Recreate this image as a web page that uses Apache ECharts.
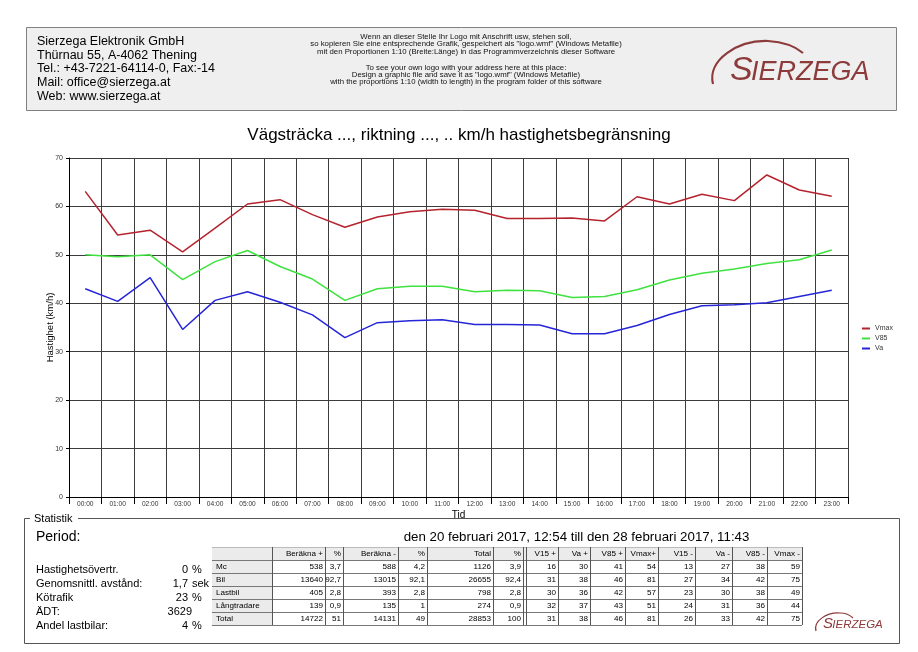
<!DOCTYPE html>
<html><head><meta charset="utf-8">
<script src="https://cdn.jsdelivr.net/npm/echarts@6/dist/echarts.min.js"></script>
<style>html,body{margin:0;padding:0;background:#fff}#c{width:918px;height:652px}</style>
</head><body><div id="c"></div>
<script>
// ---------- data ----------
const hours = ['00:00','01:00','02:00','03:00','04:00','05:00','06:00','07:00','08:00','09:00','10:00','11:00','12:00','13:00','14:00','15:00','16:00','17:00','18:00','19:00','20:00','21:00','22:00','23:00'];
const vmax = [63.1,54.1,55.1,50.6,55.5,60.5,61.4,58.3,55.7,57.8,58.9,59.4,59.2,57.5,57.5,57.6,57.0,62.0,60.5,62.5,61.2,66.5,63.4,62.1];
const v85  = [50.0,49.6,50.0,44.9,48.6,50.9,47.6,45.0,40.6,43.0,43.5,43.5,42.4,42.7,42.6,41.2,41.4,42.8,44.8,46.2,47.1,48.2,49.0,51.0];
const va   = [43.0,40.4,45.3,34.6,40.6,42.4,40.2,37.6,32.9,36.0,36.4,36.6,35.6,35.6,35.5,33.7,33.7,35.4,37.7,39.5,39.7,40.1,41.4,42.7];
const seriesNames = ['Vmax','V85','Va'];

const chartTitle = 'Vägsträcka ..., riktning ..., .. km/h hastighetsbegränsning';
const yAxisName = 'Hastighet (km/h)';
const xAxisName = 'Tid';

const companyLines = ['Sierzega Elektronik GmbH','Thürnau 55, A-4062 Thening','Tel.: +43-7221-64114-0, Fax:-14','Mail: office@sierzega.at','Web: www.sierzega.at'];
const noteLinesDe = ['Wenn an dieser Stelle Ihr Logo mit Anschrift usw, stehen soll,','so kopieren Sie eine entsprechende Grafik, gespeichert als "logo.wmf" (Windows Metafile)','mit den Proportionen 1:10 (Breite:Länge) in das Programmverzeichnis dieser Software'];
const noteLinesEn = ['To see your own logo with your address here at this place:','Design a graphic file and save it as "logo.wmf" (Windows Metafile)','with the proportions 1:10 (width to length) in the program folder of this software'];

const statTitle = 'Statistik';
const periodLabel = 'Period:';
const periodText = 'den 20 februari 2017, 12:54 till den 28 februari 2017, 11:43';
const statLabels = ['Hastighetsövertr.','Genomsnittl. avstånd:','Kötrafik','ÄDT:','Andel lastbilar:'];
const statValues = ['0','1,7','23','3629','4'];
const statUnits  = ['%','sek','%','','%'];

const tableHeader = ['Beräkna +','%','Beräkna -','%','Total','%','V15 +','Va +','V85 +','Vmax+','V15 -','Va -','V85 -','Vmax -'];
const rowLabels = ['Mc','Bil','Lastbil','Långtradare','Total'];
const rowMc      = ['538','3,7','588','4,2','1126','3,9','16','30','41','54','13','27','38','59'];
const rowBil     = ['13640','92,7','13015','92,1','26655','92,4','31','38','46','81','27','34','42','75'];
const rowLastbil = ['405','2,8','393','2,8','798','2,8','30','36','42','57','23','30','38','49'];
const rowLang    = ['139','0,9','135','1','274','0,9','32','37','43','51','24','31','36','44'];
const rowTotal   = ['14722','51','14131','49','28853','100','31','38','46','81','26','33','42','75'];
const tableRows = [rowMc,rowBil,rowLastbil,rowLang,rowTotal];
const logoText = ['S','IERZEGA'];

// ---------- helpers ----------
const F = '"Liberation Sans", Arial, sans-serif';
function T(text, x, y, size, align, extra){
  align = align || 'left';
  return {type:'text', silent:true, z:10, style:Object.assign({text:text, x:x, y:y, fontSize:size, fontFamily:F, fill:'#000',
    textAlign:align, align:align, textVerticalAlign:'middle', verticalAlign:'middle'}, extra||{})};
}
function L(x1,y1,x2,y2,color,w){
  return {type:'line', silent:true, z:10, shape:{x1:x1,y1:y1,x2:x2,y2:y2}, style:{stroke:color||'#000', lineWidth:w||1}};
}
function R(x,y,w,h,fill,stroke,z){
  return {type:'rect', silent:true, z:z||5, shape:{x:x,y:y,width:w,height:h}, style:{fill:fill||'none', stroke:stroke||null, lineWidth:1}};
}
function B(p, color, w){
  return {type:'bezierCurve', silent:true, z:10, shape:{x1:p[0],y1:p[1],cpx1:p[2],cpy1:p[3],cpx2:p[4],cpy2:p[5],x2:p[6],y2:p[7]},
    style:{fill:'none', stroke:color, lineWidth:w}};
}
function logo(x, base, sBig, sSmall, curves, arcW){
  const c = '#8d3a3a';
  const out = [
    T(logoText[0], x, base - 0.35*sBig, sBig, 'left', {fontStyle:'italic', fill:c}),
    T(logoText[1], x + 0.62*sBig, base - 0.35*sSmall, sSmall, 'left', {fontStyle:'italic', fill:c})
  ];
  curves.forEach(p=>out.push(B(p,c,arcW)));
  return out;
}

const g = [];
// header box
g.push(R(26.5,27.5,870,83,'#efefef','#808080'));
companyLines.forEach((s,i)=>g.push(T(s,37,41.5+i*13.75,12.5)));
noteLinesDe.forEach((s,i)=>g.push(T(s,466,37+i*7.2,7.8,'center',{fill:'#111'})));
noteLinesEn.forEach((s,i)=>g.push(T(s,466,67.5+i*7.2,7.8,'center',{fill:'#111'})));
logo(730,82,34,27,[[713,84,707,60,738,40,768,41],[768,41,784,42,796,47,803,53]],2.2).forEach(e=>g.push(e));

// statistics box
g.push(R(24.5,518.5,875,125,null,'#555'));
g.push(R(30,512,48,12,'#fff',null,6));
g.push(T(statTitle,34,519,11));
g.push(T(periodLabel,36,537,14));
g.push(T(periodText,576.5,537,13.3,'center'));
statLabels.forEach((s,i)=>{
  const y = 570 + i*14;
  g.push(T(s,36,y,11));
  g.push(T(statValues[i], i===3?192:188, y, 11, 'right'));
  if(statUnits[i]) g.push(T(statUnits[i],192,y,11));
});

// table
const colEdges = [272,325,343,398,427,493,523,558,590,625,658,695,732,767,802];
const tTop = 547, rowH = 13;
const nRows = rowLabels.length + 1;
g.push(R(212,tTop,590,rowH,'#ebebeb',null,5));
g.push(R(212,tTop,60,rowH*nRows,'#ebebeb',null,5));
for(let r=0;r<=nRows;r++){
  const y = Math.round(tTop + r*rowH) + 0.5;
  g.push(L(212,y,802,y, r===0?'#bbb':'#777',1));
}
colEdges.forEach((x)=>{ g.push(L(x+0.5,tTop,x+0.5,tTop+rowH*nRows,'#555',1)); });
g.push(L(526.5,tTop,526.5,tTop+rowH*nRows,'#555',1));
tableHeader.forEach((h,c)=>g.push(T(h,colEdges[c+1]-2,tTop+rowH/2+0.5,8.1,'right')));
rowLabels.forEach((lab,r)=>{
  const y = tTop + (r+1)*rowH + rowH/2 + 0.5;
  g.push(T(lab,216,y,8.1));
  tableRows[r].forEach((v,c)=>g.push(T(v,colEdges[c+1]-2,y,8.1,'right')));
});
logo(823,629,15,11.5,[[816,631,813,621,827,612,840,613],[840,613,846,613,850,615,853,618]],1.2).forEach(e=>g.push(e));

// ---------- chart ----------
const chart = echarts.init(document.getElementById('c'), null, {renderer:'canvas'});
const gridColor = '#3c3c3c';
chart.setOption({
  animation:false,
  backgroundColor:'#fff',
  title:{text:chartTitle, left:'center', top:122, textStyle:{fontFamily:F, fontSize:17, fontWeight:'normal', color:'#000'}},
  grid:{left:69, right:70, top:158, bottom:155, containLabel:false},
  legend:{data:seriesNames, orient:'vertical', left:862, top:325, itemWidth:8, itemHeight:2, itemGap:3, icon:'rect', padding:0,
    textStyle:{fontFamily:F, fontSize:7, color:'#333'}},
  xAxis:{type:'category', data:hours, boundaryGap:true, name:xAxisName, nameLocation:'middle', nameGap:13, nameMoveOverlap:false,
    nameTextStyle:{fontFamily:F, fontSize:10, color:'#000'},
    axisLine:{lineStyle:{color:'#000', width:1}},
    axisTick:{show:true, interval:0, length:7, lineStyle:{color:'#000'}},
    axisLabel:{interval:0, fontFamily:F, fontSize:6.6, color:'#333', margin:4},
    splitLine:{show:true, interval:0, lineStyle:{color:gridColor, width:1}}},
  yAxis:{type:'value', min:0, max:70, interval:10, name:yAxisName, nameLocation:'middle', nameGap:14, nameRotate:90, nameMoveOverlap:false,
    nameTextStyle:{fontFamily:F, fontSize:9.5, color:'#000'},
    axisLine:{show:true, lineStyle:{color:'#000'}},
    axisTick:{show:true, length:3, lineStyle:{color:'#000'}},
    axisLabel:{fontFamily:F, fontSize:7, color:'#333', margin:6},
    splitLine:{show:true, lineStyle:{color:gridColor, width:1}}},
  series:[
    {name:'Vmax', type:'line', data:vmax, showSymbol:false, symbol:'none', color:'#b5232e', lineStyle:{width:1.5, color:'#b5232e'}},
    {name:'V85', type:'line', data:v85, showSymbol:false, symbol:'none', color:'#3fe23f', lineStyle:{width:1.5, color:'#3fe23f'}},
    {name:'Va', type:'line', data:va, showSymbol:false, symbol:'none', color:'#2626d8', lineStyle:{width:1.5, color:'#2626d8'}}
  ],
  graphic:{elements:g}
});
</script>
</body></html>
